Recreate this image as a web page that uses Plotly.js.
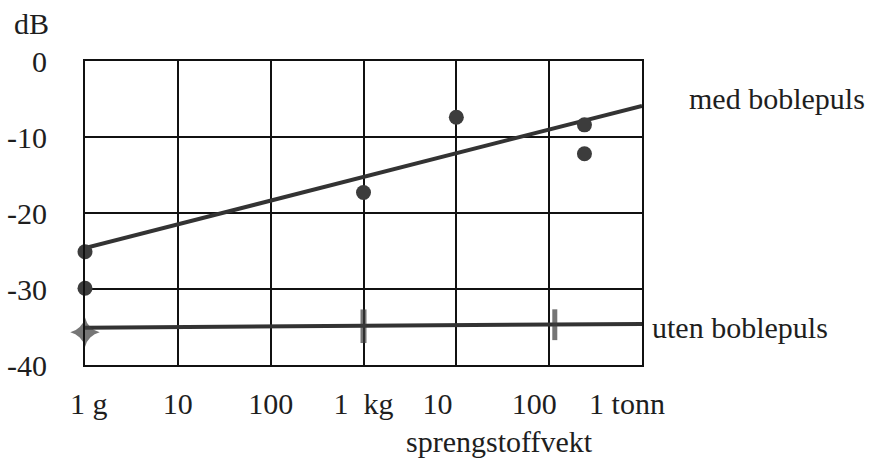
<!DOCTYPE html>
<html>
<head>
<meta charset="utf-8">
<script src="https://cdn.plot.ly/plotly-3.0.1.min.js"></script>
<style>
  html, body { margin: 0; padding: 0; background: #fff; }
  #chart { width: 874px; height: 459px; }
</style>
</head>
<body>
<div id="chart"></div>
<script>
// Explosive charge weight in grams (log axis, 1 g .. 1 tonne)
var weightTicks = [1, 10, 100, 1000, 10000, 100000, 1000000];
var weightTickText = ['\u00a01 g', '10', '100', '1\u00a0\u00a0kg', '10\u00a0\u00a0\u00a0\u00a0\u00a0', '100\u00a0\u00a0\u00a0\u00a0', '1 tonn\u00a0\u00a0\u00a0\u00a0'];
var dbTicks = [0, -10, -20, -30, -40];
var dbTickText = ['0', '-10', '-20', '-30', '-40'];

// With bubble pulse: measured points and fitted line
var medWeight = [1, 1, 1000, 10000, 240000, 240000];
var medDb = [-25.1, -29.9, -17.3, -7.4, -8.4, -12.2];
var medFitWeight = [1, 1000000];
var medFitDb = [-24.6, -5.9];

// Without bubble pulse: measured points and fitted line
var utenWeight = [1, 1000, 115000];
var utenDb = [-35.7, -34.9, -34.7];
var utenFitWeight = [1, 1000000];
var utenFitDb = [-35.1, -34.6];

var serif = 'Liberation Serif, Times New Roman, serif';
var ink = '#1e1e1e';
var fs = 30;

var traces = [
  {
    x: medFitWeight, y: medFitDb, mode: 'lines',
    line: { color: '#333', width: 4 }, hoverinfo: 'skip'
  },
  {
    x: utenFitWeight, y: utenFitDb, mode: 'lines',
    line: { color: '#333', width: 4 }, hoverinfo: 'skip'
  },
  {
    x: medWeight, y: medDb, mode: 'markers',
    marker: { color: '#3c3c3c', size: 15, line: { width: 0 } }, cliponaxis: false
  },
  {
    x: utenWeight, y: utenDb, mode: 'markers',
    marker: {
      color: '#3c3c3c', size: [21, 24, 22],
      symbol: ['star-diamond', 'line-ns', 'line-ns'],
      line: { color: '#3c3c3c', width: [0, 6, 5] }
    },
    cliponaxis: false
  }
];

var layout = {
  width: 874, height: 459,
  margin: { l: 85, r: 232, t: 61, b: 94 },
  paper_bgcolor: '#fff', plot_bgcolor: '#fff',
  showlegend: false,
  font: { family: serif, size: fs, color: ink },
  xaxis: {
    type: 'log', range: [0, 6],
    tickmode: 'array', tickvals: weightTicks, ticktext: weightTickText,
    showgrid: true, gridcolor: '#111', gridwidth: 2,
    showline: true, linecolor: '#111', linewidth: 2, mirror: true,
    ticks: '', zeroline: false, ticklabelstandoff: 11,
    tickfont: { family: serif, size: fs, color: ink }
  },
  yaxis: {
    range: [-40, 0],
    tickmode: 'array', tickvals: dbTicks, ticktext: dbTickText,
    showgrid: true, gridcolor: '#111', gridwidth: 2,
    showline: true, linecolor: '#111', linewidth: 2, mirror: true,
    ticks: '', zeroline: false, ticklabelstandoff: 30,
    tickfont: { family: serif, size: fs, color: ink }
  },
  annotations: [
    { text: 'dB', xref: 'paper', yref: 'paper', x: -0.131, y: 1.122,
      xanchor: 'left', yanchor: 'middle', showarrow: false,
      font: { family: serif, size: fs, color: ink } },
    { text: 'med boblepuls', xref: 'paper', yref: 'y', x: 1.081, y: -4.9,
      xanchor: 'left', yanchor: 'middle', showarrow: false,
      font: { family: serif, size: fs, color: ink } },
    { text: 'uten boblepuls', xref: 'paper', yref: 'y', x: 1.014, y: -35,
      xanchor: 'left', yanchor: 'middle', showarrow: false,
      font: { family: serif, size: fs, color: ink } },
    { text: 'sprengstoffvekt', xref: 'paper', yref: 'paper', x: 0.745, y: -0.252,
      xanchor: 'center', yanchor: 'middle', showarrow: false,
      font: { family: serif, size: fs, color: ink } }
  ]
};

Plotly.newPlot('chart', traces, layout, { staticPlot: true, displayModeBar: false });
</script>
</body>
</html>
